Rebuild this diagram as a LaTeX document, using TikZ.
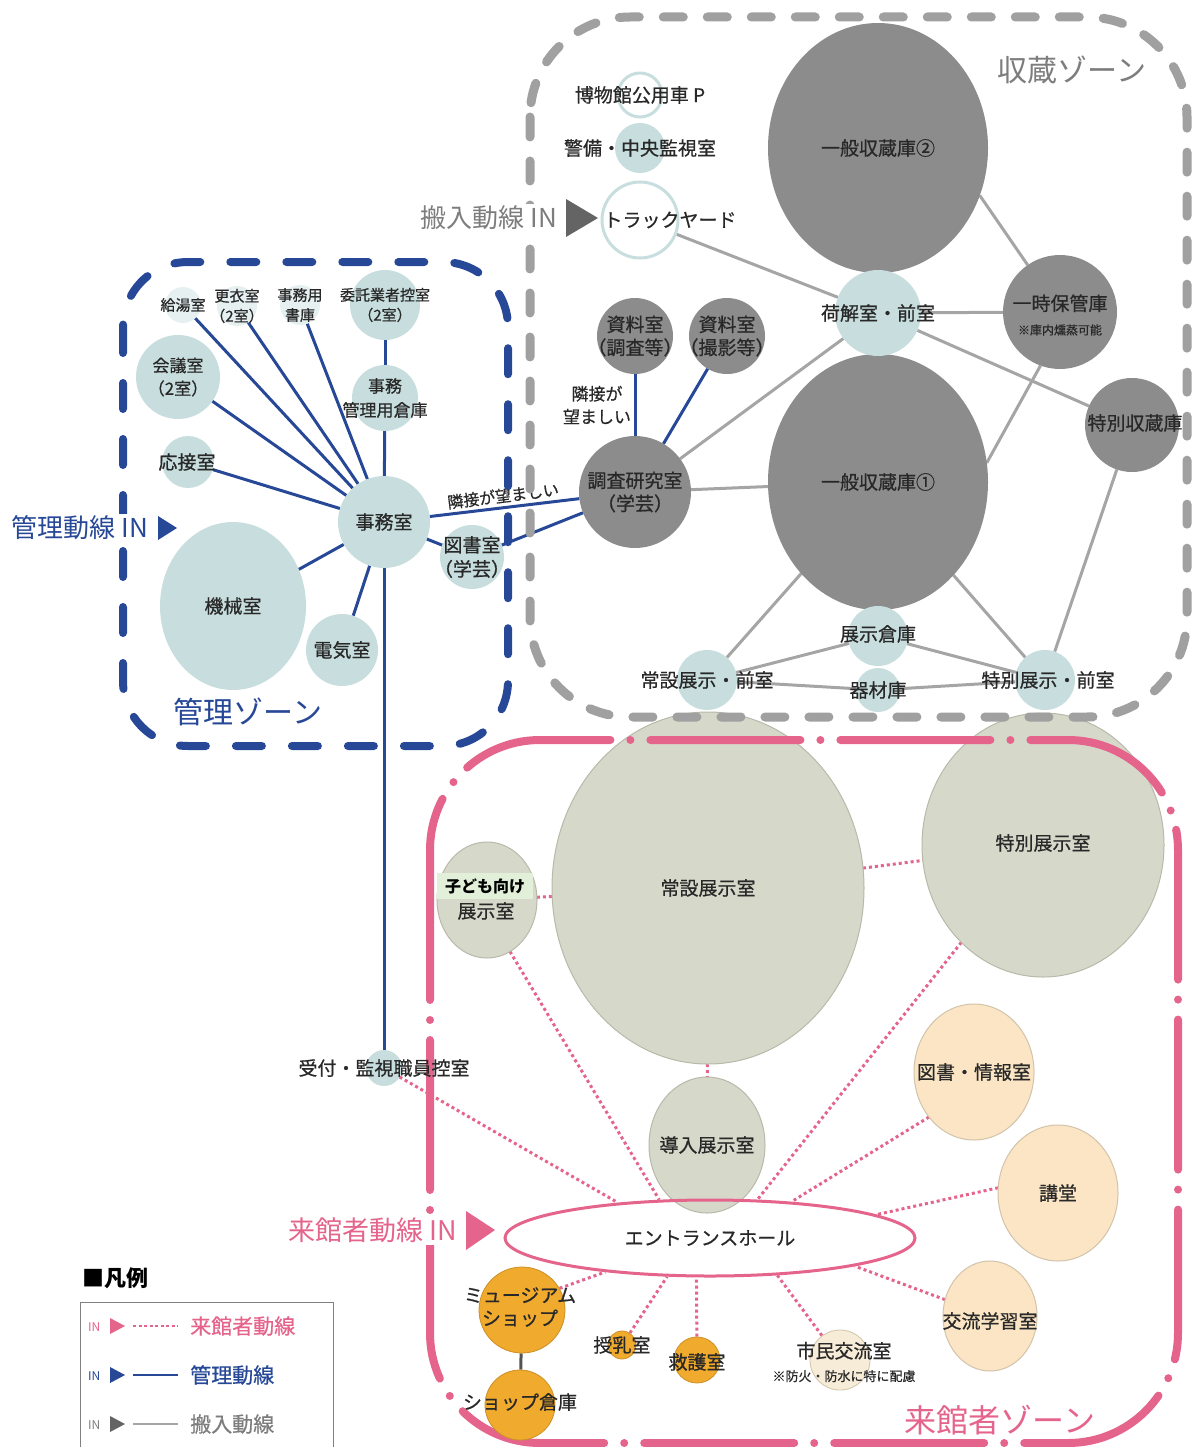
\documentclass[tikz,border=0pt]{standalone}
\usepackage{fontspec}
\setmainfont{Noto Sans CJK JP}
\newfontfamily\lblfont{Noto Sans CJK JP}[FakeBold=0.6]
\usetikzlibrary{shapes.geometric}
\definecolor{cteal}{RGB}{200,222,222}
\definecolor{cdgray}{RGB}{140,140,140}
\definecolor{cgline}{RGB}{165,165,165}
\definecolor{cgzone}{RGB}{160,160,160}
\definecolor{cblue}{RGB}{38,72,150}
\definecolor{cpink}{RGB}{229,100,140}
\definecolor{cbeige}{RGB}{214,216,202}
\definecolor{cbeiged}{RGB}{185,185,170}
\definecolor{cpeach}{RGB}{251,229,196}
\definecolor{cpeachd}{RGB}{210,195,170}
\definecolor{corange}{RGB}{240,170,45}
\definecolor{cshimin}{RGB}{246,236,216}
\definecolor{cgreen}{RGB}{226,240,217}
\definecolor{ctext}{RGB}{40,40,40}
\definecolor{cgtext}{RGB}{125,125,125}
\definecolor{cgtri}{RGB}{100,100,100}
\newcommand\myfs[2]{\fontsize{#1}{#2}\selectfont}
\pgfdeclarelayer{edges}
\pgfdeclarelayer{bigs}
\pgfdeclarelayer{zone}
\pgfsetlayers{edges,bigs,zone,main}
\begin{document}
\begin{tikzpicture}[x=1pt,y=-1pt,
 lbl/.style={font=\lblfont\myfs{19}{23}, align=center, text=ctext, inner sep=0pt},
 slbl/.style={font=\lblfont\myfs{15}{20}, align=center, text=ctext, inner sep=0pt},
 tn/.style={circle, fill=cteal, inner sep=0pt, outer sep=0pt, minimum size=#1},
 ftn/.style={circle, fill=cteal!45, inner sep=0pt, outer sep=0pt, minimum size=#1},
 gn/.style={circle, fill=cdgray, inner sep=0pt, outer sep=0pt, minimum size=#1},
 wn/.style={circle, fill=white, draw=cteal, line width=3pt, inner sep=0pt, minimum size=#1},
 orn/.style={circle, fill=corange, draw=corange!85!black, line width=0.8pt, inner sep=0pt, minimum size=#1},
 gE/.style 2 args={ellipse, fill=cdgray, inner sep=0pt, outer sep=0pt, minimum width=#1, minimum height=#2},
 tE/.style 2 args={ellipse, fill=cteal, inner sep=0pt, outer sep=0pt, minimum width=#1, minimum height=#2},
 bE/.style 2 args={ellipse, fill=cbeige, draw=cbeiged, line width=1pt, inner sep=0pt, outer sep=0pt, minimum width=#1, minimum height=#2},
 pE/.style 2 args={ellipse, fill=cpeach, draw=cpeachd, line width=1pt, inner sep=0pt, outer sep=0pt, minimum width=#1, minimum height=#2},
 bline/.style={draw=cblue, line width=3pt},
 gline/.style={draw=cgline, line width=3pt},
 pline/.style={draw=cpink, line width=3pt, dash pattern=on 3pt off 3pt},
 zlbl/.style={font=\myfs{30}{34}, inner sep=0pt},
 inlbl/.style={font=\myfs{26}{30}, inner sep=2pt, anchor=east, fill=white},
]
\useasboundingbox (0,0) rectangle (1194,1447);

% ---------------- big exhibit ellipses (below zone lines)
\begin{pgfonlayer}{bigs}
\node[bE={312pt}{352pt}, label={[lbl]center:常設展示室}] (josetsu) at (708,888) {};
\node[bE={242pt}{264pt}, label={[lbl,yshift=2pt]center:特別展示室}] (tokuten) at (1043,845) {};
\end{pgfonlayer}

% ---------------- zones
\begin{pgfonlayer}{zone}
\draw[cgzone, line width=9pt, dash pattern=on 20pt off 24pt, line cap=round, rounded corners=100pt] (530,17) rectangle (1187,717);
\draw[cblue, line width=8pt, dash pattern=on 26pt off 30pt, line cap=round, rounded corners=65pt] (123,262) rectangle (508,746);
\draw[cpink, line width=8pt, dash pattern=on 150pt off 20pt on 0pt off 20pt, line cap=round, rounded corners=110pt] (430,740) rectangle (1178,1443);
\end{pgfonlayer}

\node[zlbl, text=cgtext] (zs) at (1072,70) {収蔵ゾーン};
\node[zlbl, text=cblue] (zk) at (248,712) {管理ゾーン};
\node[zlbl, text=cpink, font=\myfs{32}{36}] (zr) at (1000,1420) {来館者ゾーン};

% ---------------- storage zone nodes
\node[gE={220pt}{250pt}, label={[lbl]center:一般収蔵庫②}] (ippan2) at (878,148) {};
\node[gE={220pt}{256pt}, label={[lbl]center:一般収蔵庫①}] (ippan1) at (878,482) {};
\node[tn=86pt, label={[lbl]center:荷解室・前室}] (niho) at (878,313) {};
\node[gn=114pt, label={[lbl,yshift=-3pt]center:{一時保管庫\\[1pt]{\myfs{12}{14}※庫内燻蒸可能}}}] (ichiji) at (1060,312) {};
\node[gn=94pt, label={[lbl,xshift=3pt,yshift=2pt]center:特別収蔵庫}] (tokusyu) at (1132,425) {};
\node[gn=76pt, label={[lbl]center:{資料室\\（調査等）}}] (shiryo1) at (635,336) {};
\node[gn=76pt, label={[lbl]center:{資料室\\（撮影等）}}] (shiryo2) at (727,336) {};
\node[gn=112pt, label={[lbl]center:{調査研究室\\（学芸）}}] (chosa) at (635,492) {};
\node[wn=44pt, label={[lbl]center:博物館公用車 P}] (kouyo) at (640,95) {};
\node[tn=50pt, label={[lbl]center:警備・中央監視室}] (keibi) at (640,148) {};
\node[wn=76pt, label={[lbl,xshift=30pt]center:トラックヤード}] (truck) at (640,220) {};
\node[tn=60pt, label={[lbl,yshift=2pt]center:展示倉庫}] (tenko) at (878,636) {};
\node[tn=44pt, label={[lbl]center:器材庫}] (kizai) at (878,690) {};
\node[tn=60pt, label={[lbl]center:常設展示・前室}] (jmae) at (707,680) {};
\node[tn=60pt, label={[lbl,xshift=3pt]center:特別展示・前室}] (tmae) at (1045,680) {};
\node[lbl, font=\lblfont\myfs{17}{23}] (rinsetsu1) at (597,405) {隣接が\\望ましい};

% ---------------- management zone nodes
\node[tn=92pt, label={[lbl]center:事務室}] (jimu) at (384,522) {};
\node[tE={146pt}{168pt}, label={[lbl]center:機械室}] (kikai) at (233,606) {};
\node[tn=72pt, label={[lbl]center:電気室}] (denki) at (342,650) {};
\node[tn=52pt, label={[lbl,xshift=-1pt]center:応接室}] (osetsu) at (188,462) {};
\node[tn=84pt, label={[lbl,font=\lblfont\myfs{17}{23}]center:{会議室\\（2室）}}] (kaigi) at (178,377) {};
\node[ftn=36pt, label={[slbl]center:給湯室}] (kyuto) at (183,305) {};
\node[ftn=40pt, label={[slbl]center:{更衣室\\（2室）}}] (koui) at (237,306) {};
\node[ftn=40pt, label={[slbl]center:{事務用\\書庫}}] (shoko) at (300,305) {};
\node[tn=70pt, label={[slbl]center:{委託業者控室\\（2室）}}] (itaku) at (385,305) {};
\node[tn=66pt, label={[lbl,font=\lblfont\myfs{17}{24}]center:{事務\\管理用倉庫}}] (kanri) at (385,398) {};
\node[tn=64pt, label={[lbl,font=\lblfont\myfs{19}{24}]center:{図書室\\（学芸）}}] (toshoS) at (472,557) {};
\node[tn=36pt, label={[lbl]center:受付・監視職員控室}] (uketsuke) at (384,1068) {};

% ---------------- visitor zone nodes
\node[bE={100pt}{116pt}] (kodomo) at (487,900) {};
\node[fill=cgreen, minimum width=96pt, minimum height=26pt, inner sep=0pt, font=\bfseries\myfs{16}{18}, text=black] (kodomot) at (485,886) {子ども向け};
\node[lbl] (kodomot2) at (486,911) {展示室};
\node[bE={116pt}{136pt}, label={[lbl]center:導入展示室}] (doniu) at (707,1145) {};
\node[ellipse, draw=cpink, line width=3pt, inner sep=0pt, minimum width=410pt, minimum height=76pt, label={[lbl]center:エントランスホール}] (ent) at (710,1238) {};
\node[pE={120pt}{136pt}, label={[lbl]center:図書・情報室}] (tosho) at (974,1072) {};
\node[pE={120pt}{136pt}, label={[lbl]center:講堂}] (kodo) at (1058,1193) {};
\node[pE={94pt}{110pt}, label={[lbl,yshift=-5pt]center:交流学習室}] (kouryu) at (990,1316) {};
\node[orn=86pt, label={[lbl,yshift=3pt,xshift=-2pt]center:{ミュージアム\\ショップ}}] (shop) at (522,1310) {};
\node[orn=70pt, label={[lbl,yshift=3pt]center:ショップ倉庫}] (shopso) at (520,1405) {};
\node[orn=28pt, label={[lbl]center:授乳室}] (junyu) at (622,1345) {};
\node[orn=46pt, label={[lbl,yshift=-2pt]center:救護室}] (kyugo) at (697,1360) {};
\node[circle, fill=cshimin, draw=cpeachd, line width=0.8pt, inner sep=0pt, minimum size=60pt, label={[lbl,xshift=4pt,yshift=-2pt]center:{市民交流室\\{\myfs{13}{15}※防火・防水に特に配慮}}}] (shimin) at (840,1360) {};

% ---------------- IN labels
\node[inlbl, text=cblue] (inK) at (150,528) {管理動線 IN};
\fill[cblue] (158,516) -- (177,528) -- (158,540) -- cycle;
\node[inlbl, text=cgtext] (inH) at (559,218) {搬入動線 IN};
\fill[cgtri] (566,199) -- (598,218) -- (566,237) -- cycle;
\node[inlbl, text=cpink, font=\myfs{27}{30}] (inR) at (459,1230) {来館者動線 IN};
\fill[cpink] (466,1211) -- (495,1230) -- (466,1250) -- cycle;

% ---------------- legend
\node[anchor=west, inner sep=0pt, font=\bfseries\myfs{22}{24}, text=black] (legt) at (82,1278) {■凡例};
\draw[draw=gray, line width=1pt] (80,1450) -- (80,1302) -- (333,1302) -- (333,1450);
\node[anchor=west, inner sep=0pt, font=\myfs{12}{14}, text=cpink] (lin1) at (88,1327) {IN};
\fill[cpink] (110,1318) -- (125,1326) -- (110,1334) -- cycle;
\coordinate (l1a) at (133,1326); \coordinate (l1b) at (178,1326);
\draw[cpink, line width=2pt, dash pattern=on 3pt off 2.5pt] (l1a) -- (l1b);
\node[anchor=west, inner sep=0pt, font=\lblfont\myfs{21}{24}, text=cpink] (lt1) at (190,1326) {来館者動線};
\node[anchor=west, inner sep=0pt, font=\myfs{12}{14}, text=cblue] (lin2) at (88,1376) {IN};
\fill[cblue] (110,1367) -- (125,1375) -- (110,1383) -- cycle;
\coordinate (l2a) at (133,1375); \coordinate (l2b) at (178,1375);
\draw[cblue, line width=2.5pt] (l2a) -- (l2b);
\node[anchor=west, inner sep=0pt, font=\lblfont\myfs{21}{24}, text=cblue] (lt2) at (190,1375) {管理動線};
\node[anchor=west, inner sep=0pt, font=\myfs{12}{14}, text=cgtext] (lin3) at (88,1425) {IN};
\fill[cgtri] (110,1416) -- (125,1424) -- (110,1432) -- cycle;
\coordinate (l3a) at (133,1424); \coordinate (l3b) at (178,1424);
\draw[cgline, line width=2.5pt] (l3a) -- (l3b);
\node[anchor=west, inner sep=0pt, font=\lblfont\myfs{21}{24}, text=cgtext] (lt3) at (190,1424) {搬入動線};

% ---------------- connectors
\begin{pgfonlayer}{edges}
% management (blue)
\draw[bline] (jimu) -- (kyuto);
\draw[bline] (jimu) -- (koui);
\draw[bline] (jimu) -- (shoko);
\draw[bline] (jimu) -- (kanri);
\draw[bline] (kanri) -- (itaku);
\draw[bline] (jimu) -- (kaigi);
\draw[bline] (jimu) -- (osetsu);
\draw[bline] (jimu) -- (kikai);
\draw[bline] (jimu) -- (denki);
\draw[bline] (jimu) -- (toshoS);
\draw[bline] (jimu) -- node[midway, above=3pt, sloped, font=\lblfont\myfs{16}{18}, text=ctext, inner sep=0pt] (rinsetsu2) {隣接が望ましい} (chosa);
\draw[bline] (toshoS) -- (chosa);
\draw[bline] (jimu) -- (uketsuke);
\draw[bline] (chosa) -- (shiryo1);
\draw[bline] (chosa) -- (shiryo2);
% storage (gray)
\draw[gline] (truck) -- (niho);
\draw[gline] (niho) -- (ichiji);
\draw[gline] (ippan2.-25) -- (ichiji);
\draw[gline] (niho) -- (tokusyu);
\draw[gline] (niho) -- (chosa);
\draw[gline] (chosa) -- (ippan1);
\draw[gline] (ichiji.-110) -- (ippan1.10);
\draw[gline] (ippan1.-130) -- (jmae);
\draw[gline] (ippan1.-51) -- (tmae);
\draw[gline] (tokusyu) -- (tmae);
\draw[gline] (tenko) -- (jmae);
\draw[gline] (tenko) -- (tmae);
\draw[gline] (kizai) -- (jmae);
\draw[gline] (kizai) -- (tmae);
% visitor (pink dotted)
\draw[pline] (kodomo) -- (josetsu);
\draw[pline] (josetsu) -- (tokuten);
\draw[pline] (josetsu) -- (doniu);
\draw[pline] (kodomo.-66) -- (ent.143);
\draw[pline] (uketsuke) -- (ent.159);
\draw[pline] (tokuten.-130) -- (ent.39);
\draw[pline] (tosho.-135) -- (ent.24);
\draw[pline] (kodo.175) -- (ent.8);
\draw[pline] (kouryu.160) -- (ent.-11);
\draw[pline] (shop.30) -- (ent.-162);
\draw[pline] (junyu) -- (ent.-138);
\draw[pline] (kyugo) -- (ent.-109);
\draw[pline] (shimin) -- (ent.-29);
\draw[draw=ctext!80, line width=3pt] (shop) -- (shopso);
\end{pgfonlayer}
\end{tikzpicture}
\end{document}
